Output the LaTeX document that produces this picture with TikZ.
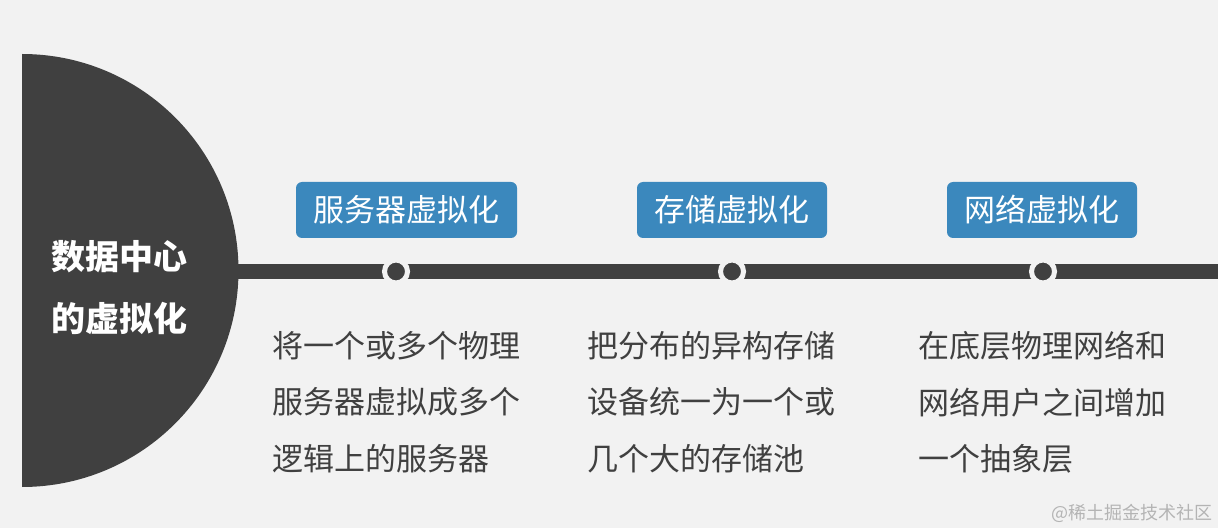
\documentclass[tikz,border=0pt]{standalone}
\usepackage{fontspec}
\newfontfamily\cjk{Noto Sans CJK SC}
\definecolor{bg}{HTML}{F2F2F2}
\definecolor{dark}{HTML}{404040}
\definecolor{blue}{HTML}{3B88BD}
\definecolor{wm}{HTML}{B4B4B4}
\tikzset{
  headbox/.style={fill=blue, rounded corners=6pt, minimum height=56pt, inner sep=0pt,
    text=white, font=\cjk\fontsize{31}{36}\selectfont},
  dotnode/.style={circle, fill=dark, draw=bg, line width=5pt, minimum size=23pt, inner sep=0pt},
  desc/.style={anchor=north west, inner sep=0pt, align=left, text=dark,
    font=\cjk\fontsize{31}{56.5}\selectfont},
}
\begin{document}
\begin{tikzpicture}[x=1pt,y=1pt]
\useasboundingbox (0,0) rectangle (1218,528);
\fill[bg] (0,0) rectangle (1218,528);
% half disc
\fill[dark] (22,474) arc[start angle=90, end angle=-90, radius=216.5] -- cycle;
\coordinate (barstart) at (236,256.5);
\coordinate (barend) at (1218,256.5);
\draw[dark, line width=15pt] (barstart) -- (barend);
\node[align=center, text=white, font=\cjk\bfseries\fontsize{34}{62}\selectfont] (title) at (119,240.5) {数据中心\\的虚拟化};
% dots
\node[dotnode] (d1) at (396,256.5) {};
\node[dotnode] (d2) at (732,256.5) {};
\node[dotnode] (d3) at (1043,256.5) {};
% header boxes
\node[headbox, minimum width=221pt] (h1) at (406.5,318) {服务器虚拟化};
\node[headbox, minimum width=190pt] (h2) at (732,318) {存储虚拟化};
\node[headbox, minimum width=190pt] (h3) at (1042,318) {网络虚拟化};
% descriptions
\node[desc] (t1) at (272,197) {将一个或多个物理\\服务器虚拟成多个\\逻辑上的服务器};
\node[desc] (t2) at (587,197) {把分布的异构存储\\设备统一为一个或\\几个大的存储池};
\node[desc] (t3) at (918,197) {在底层物理网络和\\网络用户之间增加\\一个抽象层};
% watermark
\node[anchor=east, inner sep=0pt, text=wm, font=\cjk\fontsize{18}{20}\selectfont] (wmk) at (1213,15) {@稀土掘金技术社区};
\end{tikzpicture}
\end{document}
